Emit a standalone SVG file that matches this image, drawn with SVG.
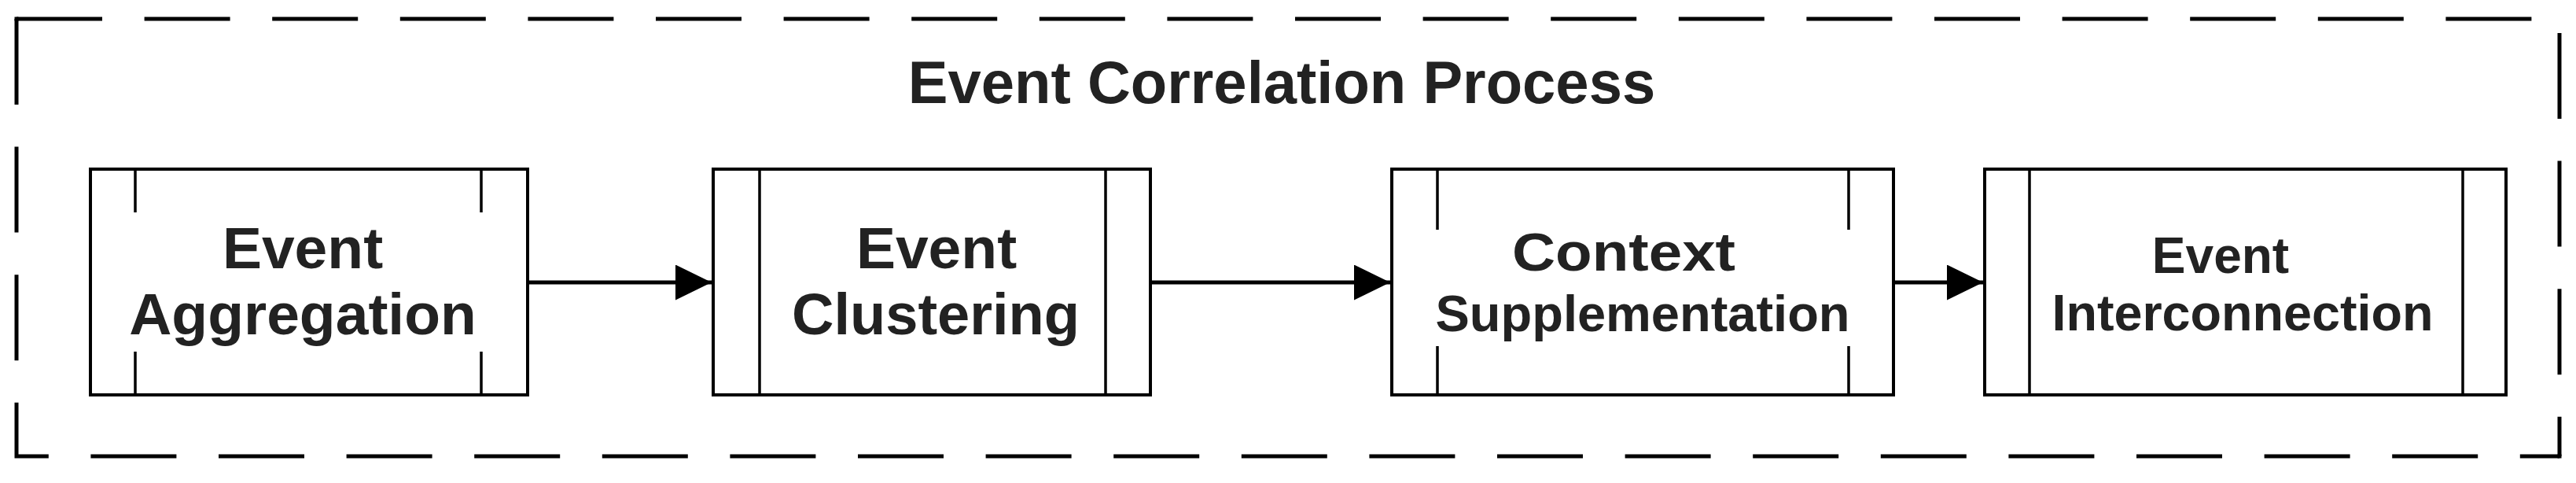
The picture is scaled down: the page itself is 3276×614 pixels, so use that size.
<svg xmlns="http://www.w3.org/2000/svg" width="3276" height="614" viewBox="0 0 3276 614">
  <style>
    .frame { fill: none; stroke: #000; stroke-width: 5; stroke-dasharray: 109 53.6; stroke-linejoin: miter; }
    .corner { fill: #000; }
    .box { fill: #fff; stroke: #000; stroke-width: 4; }
    .inner { stroke: #000; stroke-width: 3.5; fill: none; }
    .lbl { font-family: "Liberation Sans", Arial, sans-serif; font-weight: bold; fill: #222; text-anchor: middle; }
    .conn { stroke: #000; stroke-width: 5; fill: none; }
  </style>
  <defs>
    <marker id="arrow" markerUnits="userSpaceOnUse" markerWidth="48" markerHeight="46" refX="46" refY="22.5" orient="auto">
      <path d="M0,0 L46,22.5 L0,45 Z" fill="#000"/>
    </marker>
  </defs>
  <rect width="3276" height="614" fill="#fff"/>

  <g id="container">
    <path class="frame" d="M21,24 H3255 V580"/>
    <path class="frame" d="M21,24 V580 H3255"/>
    <rect class="corner" x="18.5" y="21.5" width="5" height="5"/>
    <rect class="corner" x="3252.5" y="577.5" width="5" height="5"/>
    <text class="lbl" x="1630" y="131" font-size="76">Event Correlation Process</text>
  </g>

  <g id="node-aggregation">
    <rect class="box" x="115" y="215" width="556" height="287"/>
    <path class="inner" d="M172,215 V270 M172,447 V502 M612,215 V270 M612,447 V502"/>
    <text class="lbl" x="385" y="341" font-size="75">Event</text>
    <text class="lbl" x="385" y="425" font-size="75">Aggregation</text>
  </g>

  <g id="node-clustering">
    <rect class="box" x="907" y="215" width="556" height="287"/>
    <path class="inner" d="M966,215 V502 M1406,215 V502"/>
    <text class="lbl" x="1191" y="341" font-size="75">Event</text>
    <text class="lbl" x="1190" y="425" font-size="75" textLength="366" lengthAdjust="spacingAndGlyphs">Clustering</text>
  </g>

  <g id="node-context">
    <rect class="box" x="1770" y="215" width="638" height="287"/>
    <path class="inner" d="M1828,215 V292 M1828,440 V502 M2351,215 V292 M2351,440 V502"/>
    <text class="lbl" x="2065" y="344" font-size="69" textLength="284" lengthAdjust="spacingAndGlyphs">Context</text>
    <text class="lbl" x="2089" y="421" font-size="64" textLength="527" lengthAdjust="spacingAndGlyphs">Supplementation</text>
  </g>

  <g id="node-interconnection">
    <rect class="box" x="2524" y="215" width="663" height="287"/>
    <path class="inner" d="M2581,215 V502 M3132,215 V502"/>
    <text class="lbl" x="2824" y="347" font-size="64">Event</text>
    <text class="lbl" x="2852" y="420" font-size="64" textLength="485" lengthAdjust="spacingAndGlyphs">Interconnection</text>
  </g>

  <g id="connectors">
    <line class="conn" x1="671" y1="359" x2="905" y2="359" marker-end="url(#arrow)"/>
    <line class="conn" x1="1463" y1="359" x2="1768" y2="359" marker-end="url(#arrow)"/>
    <line class="conn" x1="2408" y1="359" x2="2522" y2="359" marker-end="url(#arrow)"/>
  </g>
</svg>
